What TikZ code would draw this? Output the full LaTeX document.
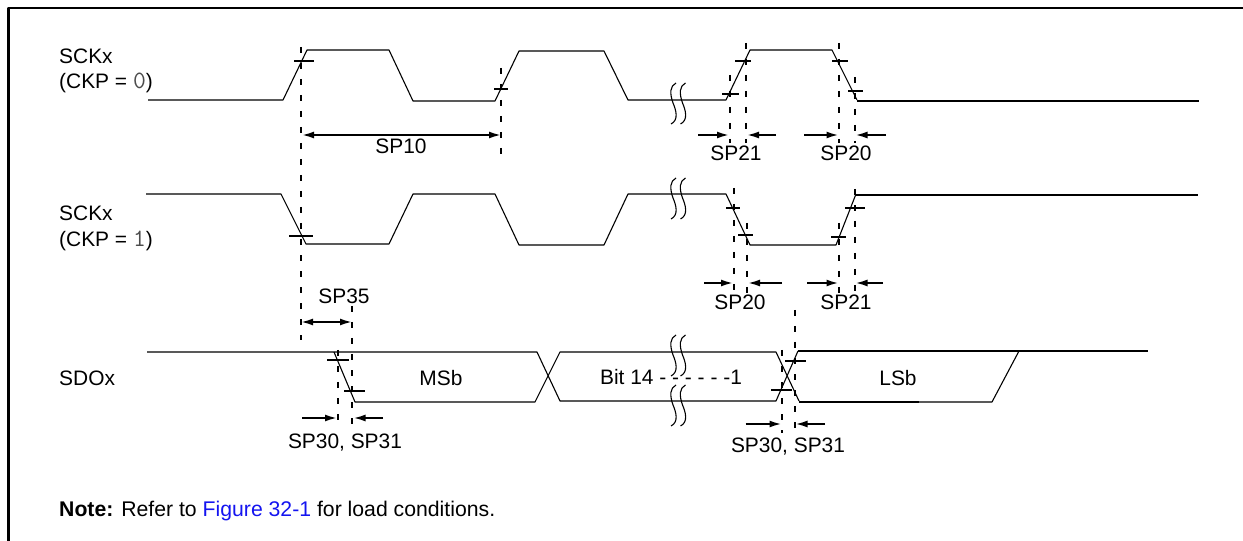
\documentclass[tikz,border=0pt]{standalone}
\usepackage{fontspec}
\setmainfont{Liberation Sans}
\usetikzlibrary{arrows.meta}
\definecolor{linkblue}{RGB}{20,20,240}
\newcommand{\ckpdigit}[1]{{\fontsize{25}{24}\ttfamily\color{black!70}#1}}
\tikzset{
  wave/.style={black,line width=1.1bp},
  wavethick/.style={black,line width=2bp},
  refline/.style={black,line width=1.7bp,dash pattern=on 6bp off 10bp},
  crossbar/.style={black,line width=1.7bp},
  dimarrow/.style={black,line width=1.9bp},
  lbl/.style={inner sep=0pt,font=\fontsize{21}{24}\selectfont},
}
\newcommand{\wavebreak}[2]{%
  \draw [black,line width=1.1bp] (#1+5,#2) .. controls (#1-1,#2+3) and (#1-1.5,#2+10) .. (#1+2,#2+20) .. controls (#1+5,#2+27) and (#1+8,#2+37) .. (#1,#2+41);
  \draw [black,line width=1.1bp] (#1+14.5,#2) .. controls (#1+8.5,#2+3) and (#1+8,#2+10) .. (#1+11.5,#2+20) .. controls (#1+14.5,#2+27) and (#1+17.5,#2+37) .. (#1+9.5,#2+41);
}
\begin{document}
\begin{tikzpicture}[x=1bp,y=-1bp,>={Latex[length=12bp,width=7bp]},line join=bevel]
\useasboundingbox (0,0) rectangle (1243,541);
%% frame
\draw [black,line width=2.6bp] (8.5,541) -- (8.5,8) -- (1243,8);
%% labels
\node (node_sck_a) at (59,63.5) [lbl,anchor=base west] {SCKx};
\node (node_ckp_a) at (59,89) [lbl,anchor=base west] {(CKP = \ckpdigit{0})};
\node (node_sck_b) at (59,221) [lbl,anchor=base west] {SCKx};
\node (node_ckp_b) at (59,247) [lbl,anchor=base west] {(CKP = \ckpdigit{1})};
\node (node_sdo) at (59,386) [lbl,anchor=base west] {SDOx};
\node (node_msb) at (441,386) [lbl,anchor=base] {MSb};
\node (node_bit) at (671,385) [lbl,anchor=base] {Bit 14 - - - - - -1};
\node (node_lsb) at (898,386) [lbl,anchor=base] {LSb};
\node (node_note) at (59,516) [lbl,font=\fontsize{21.3}{24}\selectfont,anchor=base west] {\textbf{Note:} Refer to \textcolor{linkblue}{Figure 32-1} for load conditions.};
\node (node_sp10) at (401,154) [lbl,anchor=base] {SP10};
\node (node_sp21_a) at (736,161) [lbl,anchor=base] {SP21};
\node (node_sp20_a) at (846,161) [lbl,anchor=base] {SP20};
\node (node_sp20_b) at (740,310) [lbl,anchor=base] {SP20};
\node (node_sp21_b) at (846,310) [lbl,anchor=base] {SP21};
\node (node_sp35) at (344,304) [lbl,anchor=base] {SP35};
\node (node_sp30_a) at (345,448) [lbl,anchor=base] {SP30, SP31};
\node (node_sp30_b) at (788,452) [lbl,anchor=base] {SP30, SP31};
%% waves
\draw [wave] (148,100) -- (283,100) -- (307,50) -- (389,50) -- (413,101) -- (495,101) -- (519,51) -- (604,51) -- (628,100) -- (726,100) -- (750,50) -- (832,50) -- (857,100);
\draw [wavethick] (857,101) -- (1199,101);
\draw [wave] (146,194) -- (281,194) -- (306,244) -- (389,244) -- (413,194) -- (495,194) -- (519,245) -- (604,245) -- (628,194) -- (726,194) -- (750,245) -- (836,245) -- (856,194);
\draw [wavethick] (856,195) -- (1198,195);
\draw [wave] (147,352) -- (537,352) -- (560,401) -- (776,401) -- (798,351);
\draw [wave] (334,352) -- (355,402) -- (535,402) -- (560,352) -- (776,352) -- (799,401);
\draw [wavethick] (798,351) -- (1148,351);
\draw [wave] (1019,351) -- (992,402) -- (919,402);
\draw [wavethick] (799,402) -- (919,402);
%% breaks
\wavebreak{671}{83}
\wavebreak{671}{178}
\wavebreak{671}{335}
\wavebreak{671}{385}
%% reference lines
\draw [refline] (301,47) -- (301,340);
\draw [refline] (501,68) -- (501,160);
\draw [refline] (730,75) -- (730,143);
\draw [refline] (746,43) -- (746,143);
\draw [refline] (839,43) -- (839,143);
\draw [refline] (855,77) -- (855,143);
\draw [refline] (734,188) -- (734,293);
\draw [refline] (747,223) -- (747,293);
\draw [refline] (839,223) -- (839,293);
\draw [refline] (855,189) -- (855,293);
\draw [refline] (352,306) -- (352,425);
\draw [refline] (338,350) -- (338,428);
\draw [refline] (782,350) -- (782,433);
\draw [refline] (795,310) -- (795,428);
%% crossbars
\draw [crossbar] (294,61) -- (314,61);
\draw [crossbar] (494,89) -- (508,89);
\draw [crossbar] (735,61) -- (751,61);
\draw [crossbar] (722,94) -- (739,94);
\draw [crossbar] (832,61) -- (848,61);
\draw [crossbar] (848,91) -- (863,91);
\draw [crossbar] (289,236) -- (313,236);
\draw [crossbar] (726,208) -- (740,208);
\draw [crossbar] (738,235) -- (753,235);
\draw [crossbar] (831,237) -- (846,237);
\draw [crossbar] (845,208) -- (865,208);
\draw [crossbar] (327,360) -- (349,360);
\draw [crossbar] (344,391) -- (365,391);
\draw [crossbar] (785,361) -- (806,361);
\draw [crossbar] (771,390) -- (792,390);
%% dimension arrows
\coordinate (sp10_a) at (302,135);
\coordinate (sp10_b) at (501,135);
\draw [dimarrow,<->] (sp10_a) -- (sp10_b);
\coordinate (sp35_a) at (301,322);
\coordinate (sp35_b) at (352,322);
\draw [dimarrow,<->] (sp35_a) -- (sp35_b);
\coordinate (sp21_a_l) at (698,135);
\coordinate (sp21_a_lt) at (729,135);
\draw [dimarrow,->] (sp21_a_l) -- (sp21_a_lt);
\coordinate (sp21_a_r) at (776,135);
\coordinate (sp21_a_rt) at (747,135);
\draw [dimarrow,->] (sp21_a_r) -- (sp21_a_rt);
\coordinate (sp20_a_l) at (804,135);
\coordinate (sp20_a_lt) at (838.5,135);
\draw [dimarrow,->] (sp20_a_l) -- (sp20_a_lt);
\coordinate (sp20_a_r) at (886,135);
\coordinate (sp20_a_rt) at (855.5,135);
\draw [dimarrow,->] (sp20_a_r) -- (sp20_a_rt);
\coordinate (sp20_b_l) at (704,283);
\coordinate (sp20_b_lt) at (733,283);
\draw [dimarrow,->] (sp20_b_l) -- (sp20_b_lt);
\coordinate (sp20_b_r) at (782,283);
\coordinate (sp20_b_rt) at (748,283);
\draw [dimarrow,->] (sp20_b_r) -- (sp20_b_rt);
\coordinate (sp21_b_l) at (807,283);
\coordinate (sp21_b_lt) at (838.5,283);
\draw [dimarrow,->] (sp21_b_l) -- (sp21_b_lt);
\coordinate (sp21_b_r) at (883,283);
\coordinate (sp21_b_rt) at (855.5,283);
\draw [dimarrow,->] (sp21_b_r) -- (sp21_b_rt);
\coordinate (sp30_a_l) at (302,418);
\coordinate (sp30_a_lt) at (337,418);
\draw [dimarrow,->] (sp30_a_l) -- (sp30_a_lt);
\coordinate (sp30_a_r) at (383,418);
\coordinate (sp30_a_rt) at (353.5,418);
\draw [dimarrow,->] (sp30_a_r) -- (sp30_a_rt);
\coordinate (sp30_b_l) at (745.5,424);
\coordinate (sp30_b_lt) at (781.5,424);
\draw [dimarrow,->] (sp30_b_l) -- (sp30_b_lt);
\coordinate (sp30_b_r) at (825,424);
\coordinate (sp30_b_rt) at (795.5,424);
\draw [dimarrow,->] (sp30_b_r) -- (sp30_b_rt);
%
\end{tikzpicture}
\end{document}
